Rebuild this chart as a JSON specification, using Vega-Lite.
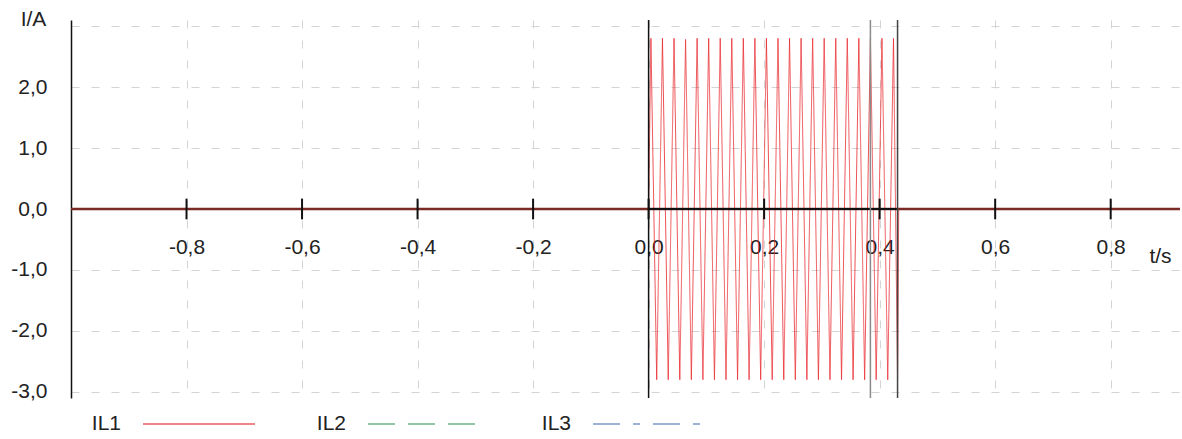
{
  "$schema": "https://vega.github.io/schema/vega-lite/v6.json",
  "autosize": "none",
  "width": 1109,
  "height": 378,
  "padding": {"left": 71, "top": 20, "right": 2, "bottom": 41},
  "background": "white",
  "config": {
    "view": {"stroke": null},
    "font": "Liberation Sans"
  },
  "datasets": {
    "il1": [
      {"t": -1.0, "I": 0, "phase": "IL1"},
      {"t": 0.0, "I": 0, "phase": "IL1"},
      {"t": 0.004, "I": 2.8, "phase": "IL1"},
      {"t": 0.014, "I": -2.8, "phase": "IL1"},
      {"t": 0.024, "I": 2.8, "phase": "IL1"},
      {"t": 0.034, "I": -2.8, "phase": "IL1"},
      {"t": 0.044, "I": 2.8, "phase": "IL1"},
      {"t": 0.054, "I": -2.8, "phase": "IL1"},
      {"t": 0.064, "I": 2.78, "phase": "IL1"},
      {"t": 0.074, "I": -2.8, "phase": "IL1"},
      {"t": 0.084, "I": 2.8, "phase": "IL1"},
      {"t": 0.094, "I": -2.8, "phase": "IL1"},
      {"t": 0.104, "I": 2.8, "phase": "IL1"},
      {"t": 0.114, "I": -2.8, "phase": "IL1"},
      {"t": 0.124, "I": 2.8, "phase": "IL1"},
      {"t": 0.134, "I": -2.8, "phase": "IL1"},
      {"t": 0.144, "I": 2.8, "phase": "IL1"},
      {"t": 0.154, "I": -2.8, "phase": "IL1"},
      {"t": 0.164, "I": 2.8, "phase": "IL1"},
      {"t": 0.174, "I": -2.8, "phase": "IL1"},
      {"t": 0.184, "I": 2.8, "phase": "IL1"},
      {"t": 0.194, "I": -2.8, "phase": "IL1"},
      {"t": 0.204, "I": 2.8, "phase": "IL1"},
      {"t": 0.214, "I": -2.8, "phase": "IL1"},
      {"t": 0.224, "I": 2.8, "phase": "IL1"},
      {"t": 0.234, "I": -2.8, "phase": "IL1"},
      {"t": 0.244, "I": 2.8, "phase": "IL1"},
      {"t": 0.254, "I": -2.8, "phase": "IL1"},
      {"t": 0.264, "I": 2.8, "phase": "IL1"},
      {"t": 0.274, "I": -2.8, "phase": "IL1"},
      {"t": 0.284, "I": 2.8, "phase": "IL1"},
      {"t": 0.294, "I": -2.8, "phase": "IL1"},
      {"t": 0.304, "I": 2.8, "phase": "IL1"},
      {"t": 0.314, "I": -2.8, "phase": "IL1"},
      {"t": 0.324, "I": 2.8, "phase": "IL1"},
      {"t": 0.334, "I": -2.8, "phase": "IL1"},
      {"t": 0.344, "I": 2.8, "phase": "IL1"},
      {"t": 0.354, "I": -2.8, "phase": "IL1"},
      {"t": 0.364, "I": 2.8, "phase": "IL1"},
      {"t": 0.374, "I": -2.8, "phase": "IL1"},
      {"t": 0.384, "I": 2.8, "phase": "IL1"},
      {"t": 0.394, "I": -2.8, "phase": "IL1"},
      {"t": 0.404, "I": 2.8, "phase": "IL1"},
      {"t": 0.414, "I": -2.8, "phase": "IL1"},
      {"t": 0.424, "I": 2.8, "phase": "IL1"},
      {"t": 0.431, "I": -2.8, "phase": "IL1"},
      {"t": 0.433, "I": 0, "phase": "IL1"},
      {"t": 0.92, "I": 0, "phase": "IL1"}
    ],
    "ticks": [{"t": -0.8}, {"t": -0.6}, {"t": -0.4}, {"t": -0.2}, {"t": 0.0}, {"t": 0.2}, {"t": 0.4}, {"t": 0.6}, {"t": 0.8}],
    "zeroline": [{"t": -1.0, "I": 0}, {"t": 0.92, "I": 0}],
    "axisseg": [{"t": 0.0, "I": 0}, {"t": 0.431, "I": 0}]
  },
  "layer": [
    {
      "data": {"name": "il1"},
      "mark": {"type": "line", "strokeWidth": 1, "opacity": 0.8},
      "encoding": {
        "x": {"field": "t", "type": "quantitative", "scale": {"domain": [-1.0, 0.92], "nice": false, "zero": false},
          "axis": {"orient": "bottom", "offset": -189, "values": [-0.8, -0.6, -0.4, -0.2, 0, 0.2, 0.4, 0.6, 0.8], "domain": false, "ticks": false, "grid": true, "gridColor": "#d4d4d4", "gridDash": [8, 12], "gridWidth": 1,
            "labelFont": "Liberation Sans", "labelFontSize": 21, "labelColor": "#222", "labelPadding": 27, "labelBaseline": "top",
            "labelExpr": "replace(replace(format(datum.value, '.1f'), '.', ','), '−', '-')",
            "title": "t/s", "titleFont": "Liberation Sans", "titleFontSize": 21, "titleFontWeight": "normal", "titleColor": "#222", "titleX": 1089, "titleY": 53, "titleAlign": "center", "titleBaseline": "alphabetic"}},
        "y": {"field": "I", "type": "quantitative", "scale": {"domain": [-3.1, 3.1], "nice": false},
          "axis": {"orient": "left", "values": [-3, -2, -1, 0, 1, 2, 3], "grid": true, "gridColor": "#d4d4d4", "gridDash": [8, 12], "gridWidth": 1, "ticks": false, "domain": true, "domainColor": "#111", "domainWidth": 1.5,
            "labelFont": "Liberation Sans", "labelFontSize": 21, "labelColor": "#222", "labelPadding": 24,
            "labelExpr": "datum.value == 3 ? '' : replace(replace(format(datum.value, '.1f'), '.', ','), '−', '-')",
            "title": "I/A", "titleFont": "Liberation Sans", "titleFontSize": 21, "titleFontWeight": "normal", "titleColor": "#222", "titleAngle": 0, "titleX": -38, "titleY": 5, "titleAlign": "center", "titleBaseline": "alphabetic"}},
        "color": {"field": "phase", "type": "nominal", "scale": {"domain": ["IL1", "IL2", "IL3"], "range": ["#e8262b", "#3f9a5f", "#4f75b8"]},
          "legend": {"orient": "none", "legendX": 71, "legendY": 347, "direction": "horizontal", "title": null, "symbolType": "stroke", "symbolSize": 12544, "symbolStrokeWidth": 1.5, "symbolOpacity": 0.75, "labelFont": "Liberation Sans", "labelFontSize": 21, "labelColor": "#222", "labelAlign": "right", "labelOffset": -135, "columnPadding": 58}},
        "strokeDash": {"field": "phase", "type": "nominal", "scale": {"domain": ["IL1", "IL2", "IL3"], "range": [[1, 0], [27, 13], [27, 13, 7, 13]]},
          "legend": {"orient": "none", "legendX": 71, "legendY": 347, "direction": "horizontal", "title": null, "symbolType": "stroke", "symbolSize": 12544, "symbolStrokeWidth": 1.5, "symbolOpacity": 0.75, "labelFont": "Liberation Sans", "labelFontSize": 21, "labelColor": "#222", "labelAlign": "right", "labelOffset": -135, "columnPadding": 58}}
      }
    },
    {
      "data": {"name": "zeroline"},
      "mark": {"type": "rule", "strokeWidth": 2.5, "color": "#7a2a24"},
      "encoding": {"x": {"aggregate": "min", "field": "t", "type": "quantitative"}, "x2": {"aggregate": "max", "field": "t"}, "y": {"aggregate": "min", "field": "I", "type": "quantitative"}}
    },
    {
      "data": {"name": "axisseg"},
      "mark": {"type": "rule", "strokeWidth": 2, "color": "#111"},
      "encoding": {"x": {"aggregate": "min", "field": "t", "type": "quantitative"}, "x2": {"aggregate": "max", "field": "t"}, "y": {"aggregate": "min", "field": "I", "type": "quantitative"}}
    },
    {
      "data": {"name": "ticks"},
      "mark": {"type": "rule", "strokeWidth": 2, "color": "#111"},
      "encoding": {
        "x": {"field": "t", "type": "quantitative"},
        "y": {"datum": -0.17, "type": "quantitative"},
        "y2": {"datum": 0.17}
      }
    },
    {
      "data": {"values": [{"t": 0.0}]},
      "mark": {"type": "rule", "strokeWidth": 1.5, "color": "#111"},
      "encoding": {"x": {"field": "t", "type": "quantitative"}}
    },
    {
      "data": {"values": [{"t": 0.384}]},
      "mark": {"type": "rule", "strokeWidth": 1.5, "color": "#8a8a8a"},
      "encoding": {"x": {"field": "t", "type": "quantitative"}}
    },
    {
      "data": {"values": [{"t": 0.431}]},
      "mark": {"type": "rule", "strokeWidth": 1.5, "color": "#444"},
      "encoding": {"x": {"field": "t", "type": "quantitative"}}
    }
  ]
}
